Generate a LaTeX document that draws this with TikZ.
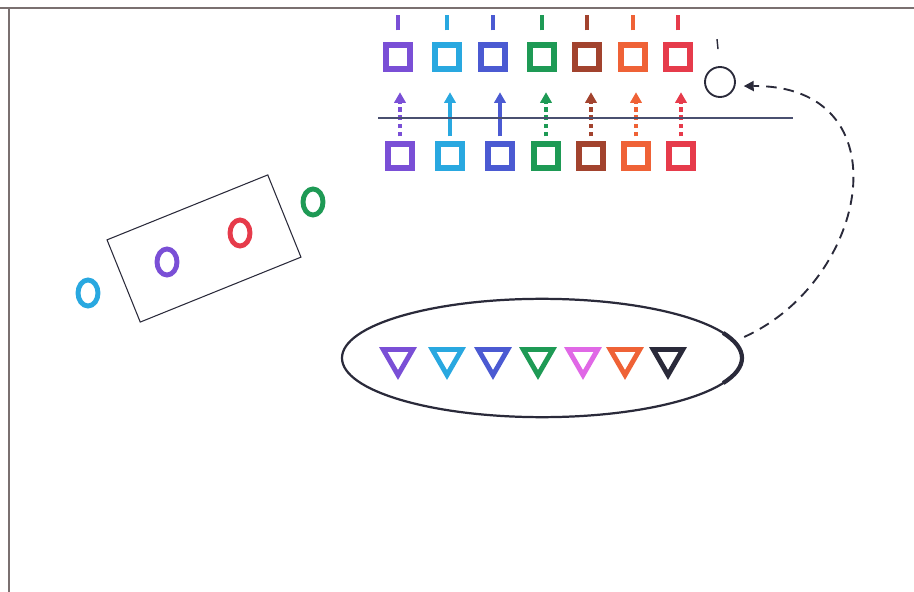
\documentclass[tikz,border=0pt]{standalone}
\usetikzlibrary{arrows.meta, positioning, shapes.geometric}
\definecolor{cpurple}{HTML}{7A4FD6}
\definecolor{ccyan}{HTML}{29A8E0}
\definecolor{cblue}{HTML}{4B5AD2}
\definecolor{cgreen}{HTML}{1E9A55}
\definecolor{cbrown}{HTML}{A2432E}
\definecolor{corange}{HTML}{EF6236}
\definecolor{cred}{HTML}{E63B4B}
\definecolor{cpink}{HTML}{E068E6}
\definecolor{cink}{HTML}{2A2A3A}
\definecolor{cslate}{HTML}{4A5070}
\definecolor{cframe}{HTML}{7A7070}
\tikzset{
  every picture/.style={line width=1.2pt},
  sq/.style={draw=#1, rectangle, minimum size=0.72cm, line width=4.4pt, inner sep=0pt},
  ring/.style={draw=#1, ellipse, minimum width=0.6cm, minimum height=0.78cm, line width=4.2pt, inner sep=0pt},
  tri/.style={draw=#1, regular polygon, regular polygon sides=3, shape border rotate=180, minimum size=1.02cm, line width=4.2pt, inner sep=0pt},
  lift/.style={-{Triangle[length=3.2mm, width=3.4mm]}, draw=#1, line width=2.6pt, shorten >=0.62cm, shorten <=0.15cm},
  dotline/.style={dash pattern=on 4pt off 3pt},
  tick/.style={draw=#1, line width=3.2pt},
  loopback/.style={-{Triangle[length=3mm, width=3mm]}, draw=cink, line width=1.6pt, dash pattern=on 9pt off 6pt},
}

\begin{document}
\begin{tikzpicture}[x=0.03cm, y=-0.03cm]
  \useasboundingbox (0,0) rectangle (914,592);
  \draw[cframe, line width=1.6pt] (0,8) -- (914,8);
  \draw[cframe, line width=1.6pt] (9,8) -- (9,592);
  % two rows of squares with arrows between them
  \foreach \xt/\xb/\c/\s [count=\i] in {398/400/cpurple/dotline, 447/450/ccyan/solid, 493/500/cblue/solid, 542/546/cgreen/dotline, 587/591/cbrown/dotline, 633/636/corange/dotline, 678/681/cred/dotline} {
    \node[sq=\c] (top\i) at (\xt,57) {};
    \node[sq=\c] (bot\i) at (\xb,156) {};
    \draw[tick=\c] (top\i.north) ++(0,-12) -- ++(0,-15);
    \draw[lift=\c, \s] (bot\i.north) -- (bot\i.north |- top\i.south);
  }
  \draw[cslate, line width=1.3pt] (378,118) -- (793,118);
  \node[draw=cink, circle, minimum size=0.9cm, line width=1.6pt, inner sep=0pt] (ctx) at (720,82) {};
  \draw[cink, line width=1.2pt] (ctx.north) ++(-2,-17) -- ++(-1,-10);
  % tilted group of circles
  \node[draw=cink, line width=0.9pt, rectangle, minimum width=5.2cm, minimum height=2.66cm, rotate=22] (batch) at (204,248.5) {};
  \node[ring=ccyan] (c1) at (88,293) {};
  \node[ring=cpurple] (c2) at (167,262) {};
  \node[ring=cred] (c3) at (240,233) {};
  \node[ring=cgreen] (c4) at (313,202) {};
  % pool of triangles
  \node[draw=cink, ellipse, minimum width=12cm, minimum height=3.55cm, line width=1.9pt] (pool) at (542,358) {};
  \draw[cink, line width=3.6pt] (pool.center) ++(-25:200 and 59.2) arc[start angle=-25, end angle=25, x radius=200, y radius=59.2];
  \foreach \x/\c [count=\i] in {398/cpurple, 447/ccyan, 493/cblue, 538/cgreen, 583/cpink, 625/corange, 668/cink} {
    \node[tri=\c] (t\i) at (\x,358) {};
  }
  \draw[loopback, shorten <=0.3cm, shorten >=0.25cm] (pool.5) .. controls (870,280) and (905,85) .. (ctx.-15);
\end{tikzpicture}
\end{document}
